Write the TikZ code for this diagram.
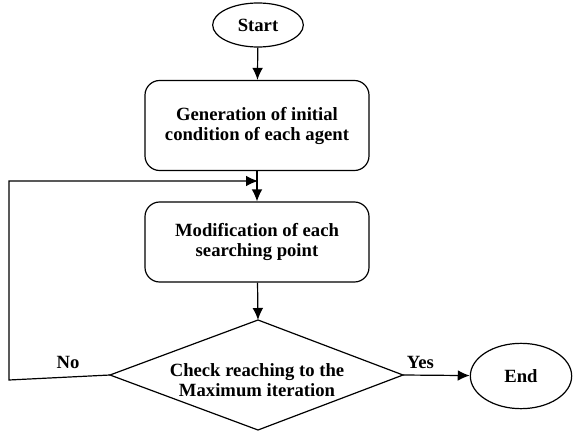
\documentclass[tikz,border=0pt]{standalone}
\usepackage{fontspec}
\setmainfont{Liberation Serif}
\usetikzlibrary{shapes.geometric,arrows.meta}

\begin{document}
\begin{tikzpicture}[x=0.75pt, y=-0.75pt,
        line width=0.9pt,
        every node/.style={font=\fontsize{14}{15}\selectfont\bfseries, align=center},
        terminal/.style={draw, ellipse, inner sep=0pt},
        process/.style={draw, rounded corners=11pt, minimum width=168pt, inner sep=0pt},
        flow/.style={-{Latex[length=9pt,width=8pt]}}]

        \useasboundingbox (0,0) rectangle (574,431);

        % start and end
        \node[terminal, minimum width=68pt, minimum height=33pt] (start) at (258,25) {Start};
        \node[terminal, minimum width=76pt, minimum height=49pt] (end) at (521,376) {End};

        % boxes
        \node[process, minimum height=67.5pt] (init) at (257,125.5) {Generation of initial\\condition of each agent};
        \node[process, minimum height=60pt] (modify) at (257,242) {Modification of each\\searching point};

        % decision
        \coordinate (ctop) at (258,320);
        \coordinate (cleft) at (110,375);
        \coordinate (cbottom) at (258,430);
        \coordinate (cright) at (403,375);
        \draw (ctop) -- (cright) -- (cbottom) -- (cleft) -- cycle;
        \node (check) at (257,380) {Check reaching to the\\Maximum iteration};

        % loop back
        \coordinate (loopa) at (9,380);
        \coordinate (loopb) at (9,181);
        \coordinate (merge) at (258,181);
        \node (no) at (68,362) {No};

        \draw[flow] (start) -- (init);
        \draw[flow] (init) -- (modify);
        \draw[flow] (modify) -- (ctop);
        \draw[flow] (cright) -- node[above=1pt, pos=0.26] (yes) {Yes} (end);
        \draw[flow] (cleft) -- (loopa) -- (loopb) -- (merge);

    \end{tikzpicture}
\end{document}
